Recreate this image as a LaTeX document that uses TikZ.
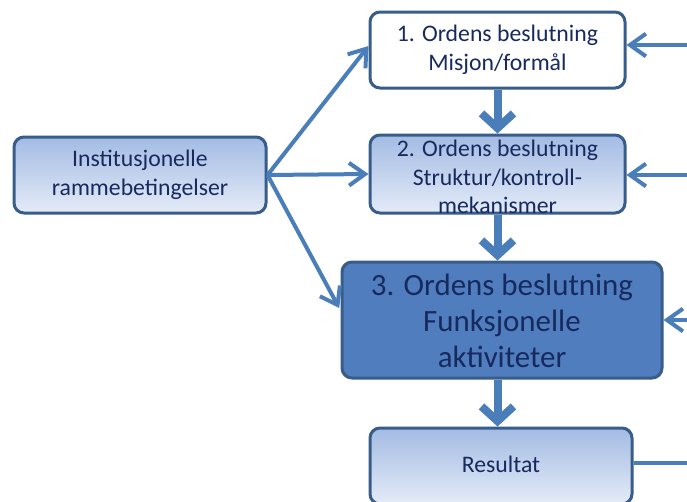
\documentclass[tikz,border=0pt]{standalone}
\usepackage{fontspec}
\setmainfont{Carlito}
\usetikzlibrary{arrows.meta}
\definecolor{arrowblue}{RGB}{74,126,187}
\definecolor{edgeblue}{RGB}{56,93,138}
\definecolor{navy}{RGB}{23,42,94}
\definecolor{gradtop}{RGB}{163,187,228}
\definecolor{gradbot}{RGB}{228,235,247}
\definecolor{midblue}{RGB}{79,125,190}
\tikzset{
  panel/.style={draw=edgeblue, line width=2.25pt, rounded corners=7.5pt, inner sep=0pt},
  softpanel/.style={panel, top color=gradtop, bottom color=gradbot},
  label/.style={text=navy, align=center, font=\fontsize{17.8}{21.5}\selectfont},
  biglabel/.style={text=navy, align=center, font=\fontsize{23.2}{27}\selectfont},
  feed/.style={draw=arrowblue, line width=3pt, -{Straight Barb[length=12pt,width=17pt]}},
  flow/.style={draw=arrowblue, line width=6pt, -{Straight Barb[length=11pt,width=24pt]}},
}
\begin{document}
\begin{tikzpicture}[x=0.75pt,y=-0.75pt]
  \useasboundingbox (0,0) rectangle (687,501);
  \clip (0,0) rectangle (687,501);
  \fill[white] (0,0) rectangle (687,501);

  % boxes
  \node (b1) [panel, fill=white, minimum width=191.25pt, minimum height=57pt] at (497.5,50) {};
  \node (b2) [softpanel, minimum width=191.25pt, minimum height=58.5pt] at (497.5,174) {};
  \node (b3) [panel, fill=midblue, minimum width=240pt, minimum height=87pt] at (502,320) {};
  \node (res) [softpanel, minimum width=196.5pt, minimum height=57pt] at (501,466) {};
  \node (inst) [softpanel, minimum width=189pt, minimum height=57pt] at (140,175) {};

  % texts
  \node (t1) [label] at (497.5,50) {1. Ordens beslutning\\Misjon/formål};
  \node (t2) [label] at (497.5,177) {2. Ordens beslutning\\Struktur/kontroll-\\mekanismer};
  \node (t3) [biglabel] at (502,321) {3. Ordens beslutning\\Funksjonelle\\aktiviteter};
  \node (tr) [label] at (501,464) {Resultat};
  \node (ti) [label] at (140,175) {Institusjonelle\\rammebetingelser};

  % inputs from the framework conditions
  \draw[feed] (inst.east) -- ([yshift=3pt]b1.west);
  \draw[feed] (inst.east) -- (b2.west);
  \draw[feed] (inst.east) -- ([yshift=9pt,xshift=-1pt]b3.west);

  % feedback from the right
  \coordinate (r1) at (690,45);
  \coordinate (r2) at (690,175);
  \coordinate (r3) at (690,320);
  \coordinate (r4) at (690,463);
  \draw[feed] (r1) -- (b1.east |- r1);
  \draw[feed] (r2) -- (b2.east |- r2);
  \draw[feed] (r3) -- (b3.east |- r3);
  \draw[draw=arrowblue, line width=3pt] (res.east |- r4) -- (r4);

  % main flow downwards
  \draw[flow] (b1.south) -- (b2.north);
  \draw[flow] (b2.south) -- (b2.south |- b3.north);
  \draw[flow] (b2.south |- b3.south) -- (b2.south |- res.north);
\end{tikzpicture}
\end{document}
